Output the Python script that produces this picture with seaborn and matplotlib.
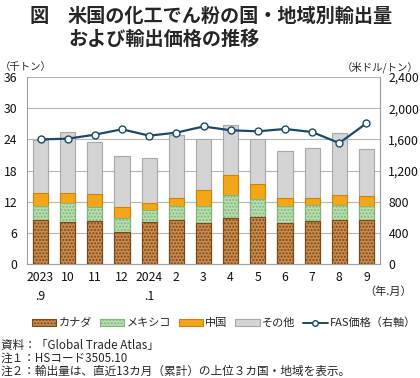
import numpy as np
import pandas as pd
import matplotlib
matplotlib.use("Agg")
import matplotlib.pyplot as plt
import seaborn as sns
from matplotlib.patches import Patch
from matplotlib.lines import Line2D

months = ["2023\n.9", "10", "11", "12", "2024\n.1", "2", "3", "4", "5", "6", "7", "8", "9"]
canada = [8.4, 8.1, 8.3, 6.2, 8.1, 8.5, 7.9, 8.8, 9.0, 7.8, 8.3, 8.4, 8.4]
mexico = [2.7, 3.6, 2.7, 2.7, 2.2, 2.7, 3.3, 4.4, 3.6, 3.3, 3.0, 3.0, 2.8]
china = [2.6, 2.0, 2.5, 2.1, 1.4, 1.6, 3.0, 3.9, 2.8, 1.7, 1.5, 1.9, 1.8]
other = [10.2, 11.7, 9.9, 9.8, 8.8, 12.0, 9.9, 9.6, 8.7, 9.0, 9.5, 12.0, 9.2]
fas = [1600, 1608, 1660, 1729, 1647, 1686, 1765, 1716, 1703, 1733, 1694, 1552, 1806]
series_names = ["カナダ", "メキシコ", "中国", "その他"]

sns.set_theme(style="white")
plt.rcParams["font.family"] = ["Noto Sans CJK JP", "DejaVu Sans"]
plt.rcParams["hatch.linewidth"] = 1.0

fig = plt.figure(figsize=(4.2, 3.78), dpi=100)
ax = fig.add_axes([27 / 420, 1 - 264 / 378, (380 - 27) / 420, (264 - 77) / 378])

df = pd.DataFrame({"month": months, "canada": canada, "mexico": mexico,
                   "china": china, "other": other})
df["c1"] = df["canada"]
df["c2"] = df["c1"] + df["mexico"]
df["c3"] = df["c2"] + df["china"]
df["c4"] = df["c3"] + df["other"]

styles = [
    ("c4", "#d4d4d4", "#a8a8a8", None),
    ("c3", "#f5a518", "#c98410", None),
    ("c2", "#b9ddb0", "#7fb878", "....."),
    ("c1", "#c98a4b", "#7a4a1e", "....."),
]
for col, fc, ec, hatch in styles:
    n_before = len(ax.patches)
    sns.barplot(data=df, x="month", y=col, order=months, color=fc, width=0.56,
                saturation=1, ax=ax, zorder=2)
    for p in ax.patches[n_before:]:
        p.set_facecolor(fc)
        p.set_edgecolor(ec)
        p.set_linewidth(0.8)
        if hatch:
            p.set_hatch(hatch)

ax.set_xlim(-0.5, 12.5)
ax.set_ylim(0, 36)
ax.set_yticks(np.arange(0, 37, 6))
ax.set_xlabel("")
ax.set_ylabel("")
ax.grid(axis="y", color="#b5b5b5", linewidth=0.8, zorder=0)
ax.set_axisbelow(True)
ax.spines["top"].set_visible(False)
for s in ["left", "bottom", "right"]:
    ax.spines[s].set_color("#a0a0a0")
    ax.spines[s].set_linewidth(0.8)
ax.tick_params(axis="y", length=0, pad=7, labelsize=8.8, labelcolor="#111111")
ax.tick_params(axis="x", which="major", length=0, pad=5, labelsize=8.8, labelcolor="#111111")
ax.set_xticks(np.arange(-0.5, 13, 1), minor=True)
ax.tick_params(axis="x", which="minor", length=3, color="#a0a0a0", width=0.8)
for lbl in ax.get_xticklabels():
    lbl.set_linespacing(1.6)
    lbl.set_verticalalignment("top")

ax2 = ax.twinx()
sns.lineplot(x=np.arange(len(fas)), y=fas, ax=ax2, color="#1b4a6b", linewidth=1.6,
             marker="o", markersize=5, markerfacecolor="white",
             markeredgecolor="#1b4a6b", markeredgewidth=1.0, zorder=5)
ax2.set_xlim(-0.5, 12.5)
ax2.set_ylim(0, 2400)
ax2.set_yticks(np.arange(0, 2401, 400))
ax2.set_yticklabels([f"{v:,}" for v in range(0, 2401, 400)])
ax2.tick_params(axis="y", length=0, pad=6, labelsize=8.8, labelcolor="#111111")
ax2.grid(False)
for s in ["top", "left", "bottom"]:
    ax2.spines[s].set_visible(False)
ax2.spines["right"].set_color("#a0a0a0")
ax2.spines["right"].set_linewidth(0.8)

# Titles and annotations
fig.text(30 / 420, 1 - 16 / 378, "図", fontsize=13.8, fontweight="bold", va="center", ha="left")
fig.text(68 / 420, 1 - 16 / 378, "米国の化工でん粉の国・地域別輸出量", fontsize=13.8,
         fontweight="bold", va="center", ha="left")
fig.text(68 / 420, 1 - 39 / 378, "および輸出価格の推移", fontsize=13.8,
         fontweight="bold", va="center", ha="left")
fig.text(0 / 420, 1 - 67 / 378, "（千トン）", fontsize=7.5, va="center", ha="left")
fig.text(419 / 420, 1 - 67 / 378, "（米ドル/トン）", fontsize=7.5, va="center", ha="right")
fig.text(412 / 420, 1 - 292 / 378, "（年.月）", fontsize=8, va="center", ha="right")

handles = [
    Patch(facecolor="#c98a4b", edgecolor="#7a4a1e", hatch=".....", linewidth=0.8),
    Patch(facecolor="#b9ddb0", edgecolor="#7fb878", hatch=".....", linewidth=0.8),
    Patch(facecolor="#f5a518", edgecolor="#c98410", linewidth=0.8),
    Patch(facecolor="#d4d4d4", edgecolor="#a8a8a8", linewidth=0.8),
    Line2D([0], [0], color="#1b4a6b", linewidth=1.4, marker="o", markersize=4,
           markerfacecolor="white", markeredgecolor="#1b4a6b"),
]
labels = series_names + ["FAS価格（右軸）"]
fig.legend(handles, labels, loc="center", bbox_to_anchor=(224 / 420, 1 - 323 / 378),
           ncol=5, frameon=False, fontsize=8, handlelength=2.2, handleheight=0.5,
           handletextpad=0.2, columnspacing=0.7)

notes = ["資料：「Global Trade Atlas」", "注１：HSコード3505.10",
         "注２：輸出量は、直近13カ月（累計）の上位３カ国・地域を表示。"]
for i, t in enumerate(notes):
    fig.text(1 / 420, 1 - (345 + 13 * i) / 378, t, fontsize=8.4, va="center", ha="left")

fig.savefig("out.png", dpi=100)
